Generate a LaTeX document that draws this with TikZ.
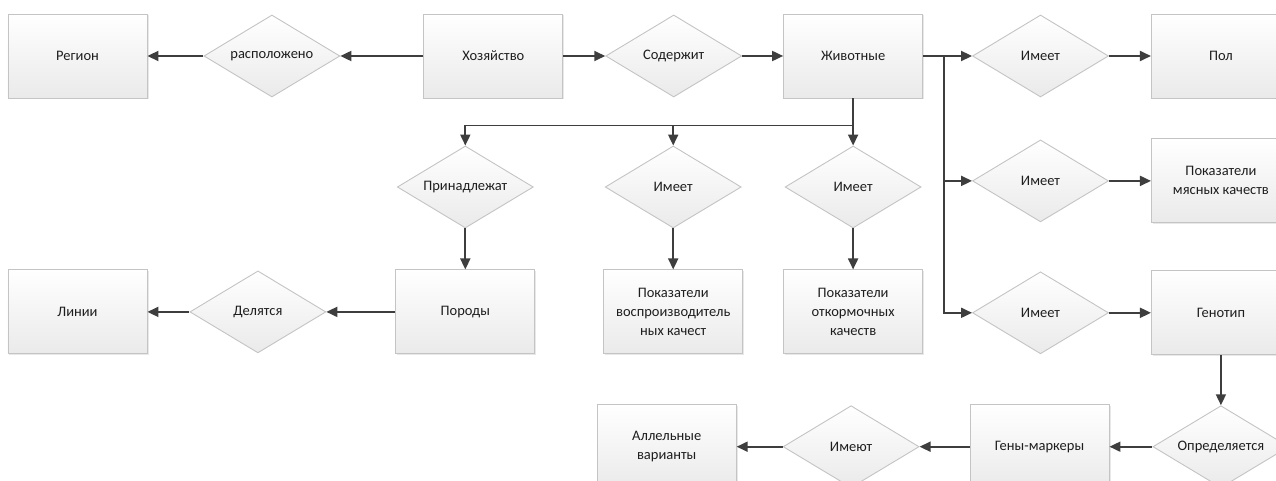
\documentclass[tikz,border=0pt]{standalone}
\usepackage{fontspec}
\setmainfont{Carlito}
\usepackage{tikz}
\usetikzlibrary{arrows.meta,positioning,shapes.geometric,shadows,calc}
\definecolor{erline}{RGB}{62,62,62}
\definecolor{erbord}{RGB}{196,196,196}
\definecolor{erfill}{RGB}{234,234,234}
\definecolor{ertext}{RGB}{30,30,30}

\begin{document}
\begin{tikzpicture}[x=1bp, y=-1bp, node distance=42bp, >={Triangle[length=11bp,width=10bp]},
  every node/.style={font=\fontsize{14.5bp}{19bp}\selectfont, text=ertext},
  entbox/.style={draw=erbord, line width=0.9bp, top color=white, bottom color=erfill, minimum width=139bp, minimum height=84bp, inner sep=2bp, align=center, drop shadow={shadow xshift=1.5bp, shadow yshift=-1.5bp, opacity=.18}},
  reldia/.style={diamond, aspect=1.66, draw=erbord, line width=0.9bp, top color=white, bottom color=erfill, minimum width=136bp, minimum height=82bp, inner sep=0pt},
  link/.style={draw=erline, line width=1.8bp}]
\path[use as bounding box, fill=white] (0,0) rectangle (1276,481);
\node[entbox] (reg) at (77.5,56) {Регион};
\node[reldia, right=56bp of reg] (rasp) {расположено};
\node[entbox, right=83bp of rasp] (hoz) {Хозяйство};
\node[reldia, right=of hoz] (sod) {Содержит};
\node[entbox, right=41bp of sod] (zhiv) {Животные};
\node[reldia, right=49bp of zhiv] (imPol) {Имеет};
\node[entbox, right=of imPol] (pol) {Пол};
\node[entbox, below=171bp of reg] (lin) {Линии};
\node[reldia, right=of lin] (del) {Делятся};
\node[entbox, right=69bp of del] (por) {Породы};
\node[entbox, right=68bp of por] (vosp) {Показатели\\воспроизводитель\\ных качест};
\node[entbox, right=40bp of vosp] (otk) {Показатели\\откормочных\\качеств};
\node[reldia, above=41bp of por] (prin) {Принадлежат};
\node[reldia, above=41bp of vosp] (imVosp) {Имеет};
\node[reldia, above=41bp of otk] (imOtk) {Имеет};
\node[reldia, below=42bp of imPol] (imMyas) {Имеет};
\node[entbox, right=of imMyas] (myas) {Показатели\\мясных качеств};
\node[reldia, below=49bp of imMyas] (imGen) {Имеет};
\node[entbox, right=of imGen] (gen) {Генотип};
\node[reldia, below=50bp of gen] (opr) {Определяется};
\node[entbox, left=43bp of opr] (genmark) {Гены-маркеры};
\node[reldia, left=50bp of genmark] (imeyut) {Имеют};
\node[entbox, left=46bp of imeyut] (allel) {Аллельные\\варианты};
\coordinate[below=27bp of zhiv.south] (bus);
\coordinate[right=21bp of zhiv.east] (vx);
\draw[link,->] (hoz) -- (rasp);
\draw[link,->] (rasp) -- (reg);
\draw[link,->] (hoz) -- (sod);
\draw[link,->] (sod) -- (zhiv);
\draw[link,->] (zhiv) -- (imPol);
\draw[link,->] (imPol) -- (pol);
\draw[link,->] (zhiv.south) -- (bus) -| (prin.north);
\draw[link,->] (bus -| imVosp.north) -- (imVosp.north);
\draw[link,->] (bus) -- (imOtk.north);
\draw[link,->] (vx) |- (imGen.west);
\draw[link,->] (vx |- imMyas.west) -- (imMyas.west);
\draw[link,->] (prin) -- (por);
\draw[link,->] (imVosp) -- (vosp);
\draw[link,->] (imOtk) -- (otk);
\draw[link,->] (por) -- (del);
\draw[link,->] (del) -- (lin);
\draw[link,->] (imMyas) -- (myas);
\draw[link,->] (imGen) -- (gen);
\draw[link,->] (gen) -- (opr);
\draw[link,->] (opr) -- (genmark);
\draw[link,->] (genmark) -- (imeyut);
\draw[link,->] (imeyut) -- (allel);
\end{tikzpicture}
\end{document}
